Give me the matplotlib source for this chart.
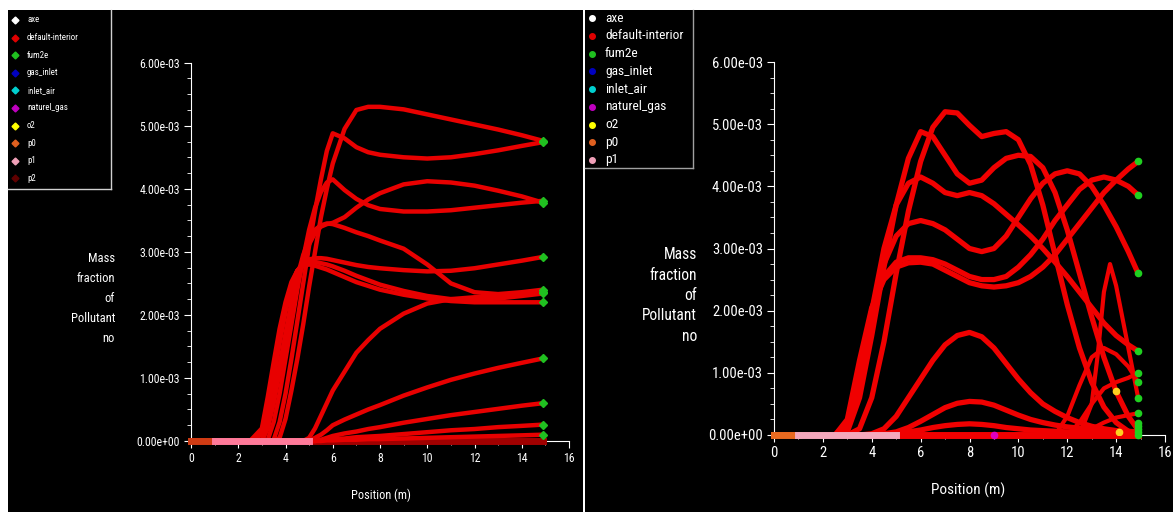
import numpy as np
import matplotlib.pyplot as plt
from matplotlib import font_manager
from matplotlib.patches import Rectangle
from matplotlib.ticker import MultipleLocator, FuncFormatter

# pick a narrow sans font if one is installed
installed = {(f.name, f.stretch) for f in font_manager.fontManager.ttflist}
installed_names = {n for n, s in installed}
font_kw = {'family': 'Liberation Sans'}
size_k = 0.86
for cand in ['Liberation Sans Narrow', 'Roboto Condensed', 'Arial Narrow', 'Open Sans Condensed']:
    if cand in installed_names:
        font_kw = {'family': cand}
        size_k = 1.0
        break
else:
    for fam in ['DejaVu Sans', 'Noto Sans', 'Roboto', 'Open Sans']:
        if any(n == fam and s in ('condensed', 'semi-condensed', 75, 87, 'semicondensed') for n, s in installed):
            font_kw = {'family': fam, 'stretch': 'condensed'}
            size_k = 0.95
            break
plt.rcParams['font.family'] = [font_kw['family'], 'DejaVu Sans']
if 'stretch' in font_kw:
    plt.rcParams['font.stretch'] = 'condensed'

W, H = 1173, 512

# legend entries
names = ['axe', 'default-interior', 'fum2e', 'gas_inlet', 'inlet_air',
         'naturel_gas', 'o2', 'p0', 'p1', 'p2']
colors = ['#ffffff', '#e00000', '#20c020', '#0000c0', '#00d0d0',
          '#c000c0', '#ffff00', '#e06020', '#f0a0b8', '#600000']

# ---- left chart : mass fraction (x1e-3) on a common position grid (m)
lx = [0, 2.5, 3.0, 3.25, 3.5, 3.75, 4.0, 4.25, 4.5, 4.75, 5.0, 5.25, 5.5,
      5.75, 6.0, 6.5, 7.0, 7.5, 8.0, 9, 10, 11, 12, 13, 14, 14.9]
l1 = [0, 0, 0, 0, 0, 0.05, 0.35, 0.8, 1.3, 1.85, 2.45, 3.0, 3.55, 4.0, 4.4, 4.95, 5.25, 5.3, 5.3, 5.26, 5.18, 5.1, 5.02, 4.94, 4.85, 4.76]
l2 = [0, 0, 0, 0, 0.02, 0.3, 0.75, 1.3, 1.9, 2.5, 3.1, 3.65, 4.15, 4.6, 4.88, 4.8, 4.66, 4.58, 4.54, 4.5, 4.48, 4.5, 4.55, 4.61, 4.68, 4.74]
l3 = [0, 0, 0, 0.02, 0.3, 0.75, 1.3, 1.85, 2.4, 2.9, 3.35, 3.7, 3.95, 4.1, 4.15, 3.98, 3.84, 3.74, 3.68, 3.64, 3.64, 3.66, 3.7, 3.74, 3.78, 3.81]
l4 = [0, 0, 0, 0.2, 0.6, 1.1, 1.6, 2.1, 2.5, 2.85, 3.12, 3.3, 3.4, 3.44, 3.46, 3.55, 3.7, 3.83, 3.93, 4.07, 4.12, 4.1, 4.05, 3.97, 3.88, 3.78]
l5 = [0, 0, 0, 0.25, 0.7, 1.2, 1.7, 2.2, 2.6, 2.95, 3.2, 3.35, 3.42, 3.45, 3.44, 3.38, 3.31, 3.25, 3.18, 3.05, 2.8, 2.5, 2.36, 2.33, 2.36, 2.4]
l6 = [0, 0, 0.1, 0.5, 1.0, 1.55, 2.05, 2.45, 2.7, 2.82, 2.88, 2.9, 2.9, 2.89, 2.87, 2.83, 2.79, 2.76, 2.74, 2.71, 2.69, 2.7, 2.74, 2.8, 2.86, 2.92]
l7 = [0, 0, 0.15, 0.6, 1.12, 1.65, 2.12, 2.48, 2.7, 2.8, 2.84, 2.84, 2.82, 2.8, 2.77, 2.7, 2.62, 2.55, 2.48, 2.38, 2.3, 2.25, 2.24, 2.26, 2.3, 2.34]
l8 = [0, 0, 0.2, 0.7, 1.25, 1.78, 2.2, 2.52, 2.7, 2.78, 2.8, 2.78, 2.75, 2.72, 2.68, 2.6, 2.52, 2.46, 2.4, 2.32, 2.26, 2.22, 2.2, 2.2, 2.2, 2.2]
l9 = [0, 0, 0, 0, 0, 0, 0, 0, 0, 0, 0.05, 0.2, 0.4, 0.6, 0.8, 1.1, 1.4, 1.6, 1.78, 2.02, 2.18, 2.25, 2.28, 2.3, 2.33, 2.36]
l10 = [0, 0, 0, 0, 0, 0, 0, 0, 0, 0, 0, 0.05, 0.1, 0.17, 0.25, 0.34, 0.42, 0.5, 0.57, 0.72, 0.85, 0.97, 1.07, 1.16, 1.24, 1.31]
l11 = [0, 0, 0, 0, 0, 0, 0, 0, 0, 0, 0, 0, 0.02, 0.05, 0.08, 0.12, 0.15, 0.19, 0.22, 0.29, 0.35, 0.41, 0.46, 0.51, 0.56, 0.6]
l12 = [0, 0, 0, 0, 0, 0, 0, 0, 0, 0, 0, 0, 0.01, 0.02, 0.03, 0.04, 0.06, 0.07, 0.08, 0.11, 0.14, 0.17, 0.19, 0.22, 0.24, 0.26]
l13 = [0, 0, 0, 0, 0, 0, 0, 0, 0, 0, 0, 0, 0, 0.01, 0.01, 0.02, 0.02, 0.03, 0.03, 0.04, 0.05, 0.06, 0.07, 0.08, 0.09, 0.1]
left_curves = [l1, l2, l3, l4, l5, l6, l7, l8, l9, l10, l11, l12, l13]

# ---- right chart
rx = [0, 2.5, 3.0, 3.5, 4.0, 4.5, 5.0, 5.5, 6.0, 6.5, 7.0, 7.5, 8.0, 8.5,
      9.0, 9.5, 10.0, 10.5, 11.0, 11.5, 12.0, 12.5, 13.0, 13.5, 14.0, 14.5, 14.9]
r1 = [0, 0, 0, 0.1, 0.6, 1.5, 2.6, 3.6, 4.4, 4.95, 5.2, 5.18, 4.98, 4.8, 4.85, 4.88, 4.75, 4.35, 3.7, 2.9, 2.1, 1.4, 0.85, 0.45, 0.2, 0.06, 0.0]
r2 = [0, 0, 0.05, 0.6, 1.6, 2.7, 3.7, 4.45, 4.88, 4.8, 4.5, 4.2, 4.05, 4.1, 4.3, 4.45, 4.5, 4.48, 4.3, 3.9, 3.3, 2.6, 1.9, 1.25, 0.7, 0.3, 0.08]
r3 = [0, 0, 0.1, 0.9, 2.0, 3.0, 3.7, 4.05, 4.15, 4.05, 3.9, 3.85, 3.9, 3.85, 3.72, 3.55, 3.38, 3.2, 3.0, 2.78, 2.55, 2.3, 2.05, 1.8, 1.6, 1.45, 1.35]
r4 = [0, 0, 0.15, 1.0, 2.0, 2.75, 3.2, 3.4, 3.45, 3.4, 3.3, 3.15, 3.0, 2.95, 3.0, 3.2, 3.5, 3.8, 4.05, 4.2, 4.25, 4.2, 4.0, 3.7, 3.35, 2.95, 2.6]
r5 = [0, 0, 0.2, 1.1, 2.0, 2.55, 2.78, 2.85, 2.85, 2.82, 2.75, 2.65, 2.55, 2.5, 2.5, 2.55, 2.7, 2.9, 3.15, 3.45, 3.7, 3.95, 4.1, 4.15, 4.1, 4.0, 3.86]
r6 = [0, 0, 0.25, 1.2, 2.05, 2.5, 2.7, 2.77, 2.78, 2.75, 2.65, 2.55, 2.45, 2.4, 2.38, 2.4, 2.45, 2.55, 2.7, 2.9, 3.15, 3.4, 3.65, 3.9, 4.1, 4.28, 4.4]
r7 = [0, 0, 0, 0, 0.02, 0.1, 0.3, 0.6, 0.9, 1.2, 1.45, 1.6, 1.65, 1.58, 1.4, 1.15, 0.9, 0.68, 0.5, 0.38, 0.28, 0.2, 0.14, 0.1, 0.07, 0.05, 0.04]
r8 = [0, 0, 0, 0, 0, 0.02, 0.05, 0.12, 0.22, 0.33, 0.44, 0.51, 0.54, 0.53, 0.48, 0.4, 0.32, 0.25, 0.2, 0.16, 0.13, 0.11, 0.09, 0.08, 0.07, 0.06, 0.05]
r9 = [0, 0, 0, 0, 0, 0, 0.02, 0.05, 0.08, 0.12, 0.15, 0.17, 0.18, 0.17, 0.15, 0.12, 0.1, 0.08, 0.07, 0.06, 0.05, 0.05, 0.04, 0.04, 0.03, 0.03, 0.03]
right_curves = [r1, r2, r3, r4, r5, r6, r7, r8, r9]

# short curves near the outlet (right chart)
r10_x = [11.5, 12, 12.5, 13, 13.5, 14, 14.5, 14.9]
r10_y = [0, 0.3, 0.8, 1.25, 1.4, 1.3, 1.1, 0.85]
r11_x = [12.5, 13.0, 13.25, 13.5, 13.75, 14.0, 14.5, 14.9]
r11_y = [0, 0.5, 1.3, 2.3, 2.75, 2.4, 1.4, 0.6]
r12_x = [12, 12.5, 13, 13.5, 14, 14.5, 14.9]
r12_y = [0, 0.2, 0.5, 0.75, 0.85, 0.92, 1.0]
r13_x = [12.5, 13, 13.5, 14, 14.5, 14.9]
r13_y = [0, 0.1, 0.2, 0.28, 0.32, 0.35]
green_right_y = [4.4, 3.86, 2.6, 1.35, 1.0, 0.85, 0.6, 0.35, 0.2, 0.15, 0.1, 0.05, 0.0]
yellow_x = [14.0, 14.1]
yellow_y = [0.7, 0.05]
magenta_x = [9.0]
magenta_y = [0.0]


def px(x):
    return x / W


def py(y):
    return 1 - y / H


def fs(v):
    return v * size_k


fig = plt.figure(figsize=(W / 100, H / 100), dpi=100, facecolor='white')

# background layer: black panels, legends, axis titles (pixel coordinates)
bg = fig.add_axes([0, 0, 1, 1], zorder=-1)
bg.set_xlim(0, W)
bg.set_ylim(H, 0)
bg.axis('off')
bg.add_patch(Rectangle((8, 10), 575, 502, facecolor='black', edgecolor='none'))
bg.add_patch(Rectangle((585, 10), 588, 502, facecolor='black', edgecolor='none'))

# left legend
bg.plot([111, 111], [10, 189], color='#d0d0d0', lw=1)
bg.plot([8, 111], [189, 189], color='#d0d0d0', lw=1)
for i, (n, c) in enumerate(zip(names, colors)):
    yy = 20 + 17.6 * i
    bg.plot(15, yy, marker='D', ms=3.5, color=c, mec=c)
    bg.text(27, yy, n, color='white', fontsize=fs(6.4), va='center', ha='left')

# right legend
bg.plot([693, 693], [10, 168], color='#a0a0a0', lw=1)
bg.plot([585, 693], [168, 168], color='#a0a0a0', lw=1)
for i, (n, c) in enumerate(zip(names[:9], colors[:9])):
    yy = 18 + 17.75 * i
    bg.plot(592, yy, marker='o', ms=4, color=c, mec=c)
    bg.text(605, yy, n, color='white', fontsize=fs(9.6), va='center', ha='left')

bg.text(115, 298.5, 'Mass\nfraction\nof\nPollutant\nno', color='white',
        fontsize=fs(9), ha='right', va='center', linespacing=1.68 / size_k)
bg.text(381, 495, 'Position (m)', color='white', fontsize=fs(8.8), ha='center', va='center')
bg.text(697, 295.5, 'Mass\nfraction\nof\nPollutant\nno', color='white',
        fontsize=fs(11.2), ha='right', va='center', linespacing=1.45 / size_k)
bg.text(968, 490, 'Position (m)', color='white', fontsize=fs(11), ha='center', va='center')


def style_axes(ax, lsize):
    ax.set_facecolor('none')
    ax.set_xlim(0, 16)
    ax.set_ylim(0, 6e-3)
    for s in ['top', 'right']:
        ax.spines[s].set_visible(False)
    for s in ['left', 'bottom']:
        ax.spines[s].set_color('white')
    ax.xaxis.set_major_locator(MultipleLocator(2))
    ax.xaxis.set_minor_locator(MultipleLocator(1))
    ax.yaxis.set_major_locator(MultipleLocator(1e-3))
    ax.yaxis.set_minor_locator(MultipleLocator(0.25e-3))
    ax.yaxis.set_major_formatter(FuncFormatter(lambda v, p: '%.2e' % v))
    ax.tick_params(which='both', colors='white', direction='out', labelsize=lsize)
    ax.tick_params(which='major', length=5, pad=3)
    ax.tick_params(which='minor', length=3)


# ---- left chart
axL = fig.add_axes([px(191), py(441), px(569) - px(191), py(62.7) - py(441)])
style_axes(axL, fs(8.5))
axL.plot([5, 14.9], [0, 0], color='#a00000', lw=5, clip_on=False, zorder=3)
for c in left_curves:
    axL.plot(lx, np.array(c) * 1e-3, color='#e80000', lw=3.2,
             solid_capstyle='round', clip_on=False, zorder=3)
axL.plot([0, 1], [0, 0], color='#d03c14', lw=5, clip_on=False, zorder=4)
axL.plot([1, 5], [0, 0], color='#ff7a9a', lw=5, clip_on=False, zorder=4)
axL.plot([lx[-1]] * len(left_curves), [c[-1] * 1e-3 for c in left_curves],
         'D', ms=4, color='#20c020', clip_on=False, zorder=5)

# ---- right chart
axR = fig.add_axes([px(774), py(435), px(1165) - px(774), py(62) - py(435)])
style_axes(axR, fs(10.5))
axR.plot([5, 14.9], [0, 0], color='#f00000', lw=5, clip_on=False, zorder=3)
for c in right_curves:
    axR.plot(rx, np.array(c) * 1e-3, color='#f00000', lw=3.8,
             solid_capstyle='round', clip_on=False, zorder=3)
for xs, ys in [(r10_x, r10_y), (r11_x, r11_y), (r12_x, r12_y), (r13_x, r13_y)]:
    axR.plot(xs, np.array(ys) * 1e-3, color='#f00000', lw=3,
             solid_capstyle='round', clip_on=False, zorder=3)
axR.plot([0, 1], [0, 0], color='#e86a20', lw=5, clip_on=False, zorder=4)
axR.plot([1, 5], [0, 0], color='#f4a8bc', lw=5, clip_on=False, zorder=4)
axR.plot([14.9] * len(green_right_y), np.array(green_right_y) * 1e-3, 'o',
         ms=4.5, color='#20d020', clip_on=False, zorder=5)
axR.plot(yellow_x, np.array(yellow_y) * 1e-3, 'o', ms=4.5, color='#ffd020', zorder=5)
axR.plot(magenta_x, np.array(magenta_y) * 1e-3, 'o', ms=4.5, color='#e000c0',
         clip_on=False, zorder=5)

fig.savefig('out.png', dpi=100, facecolor='white')
